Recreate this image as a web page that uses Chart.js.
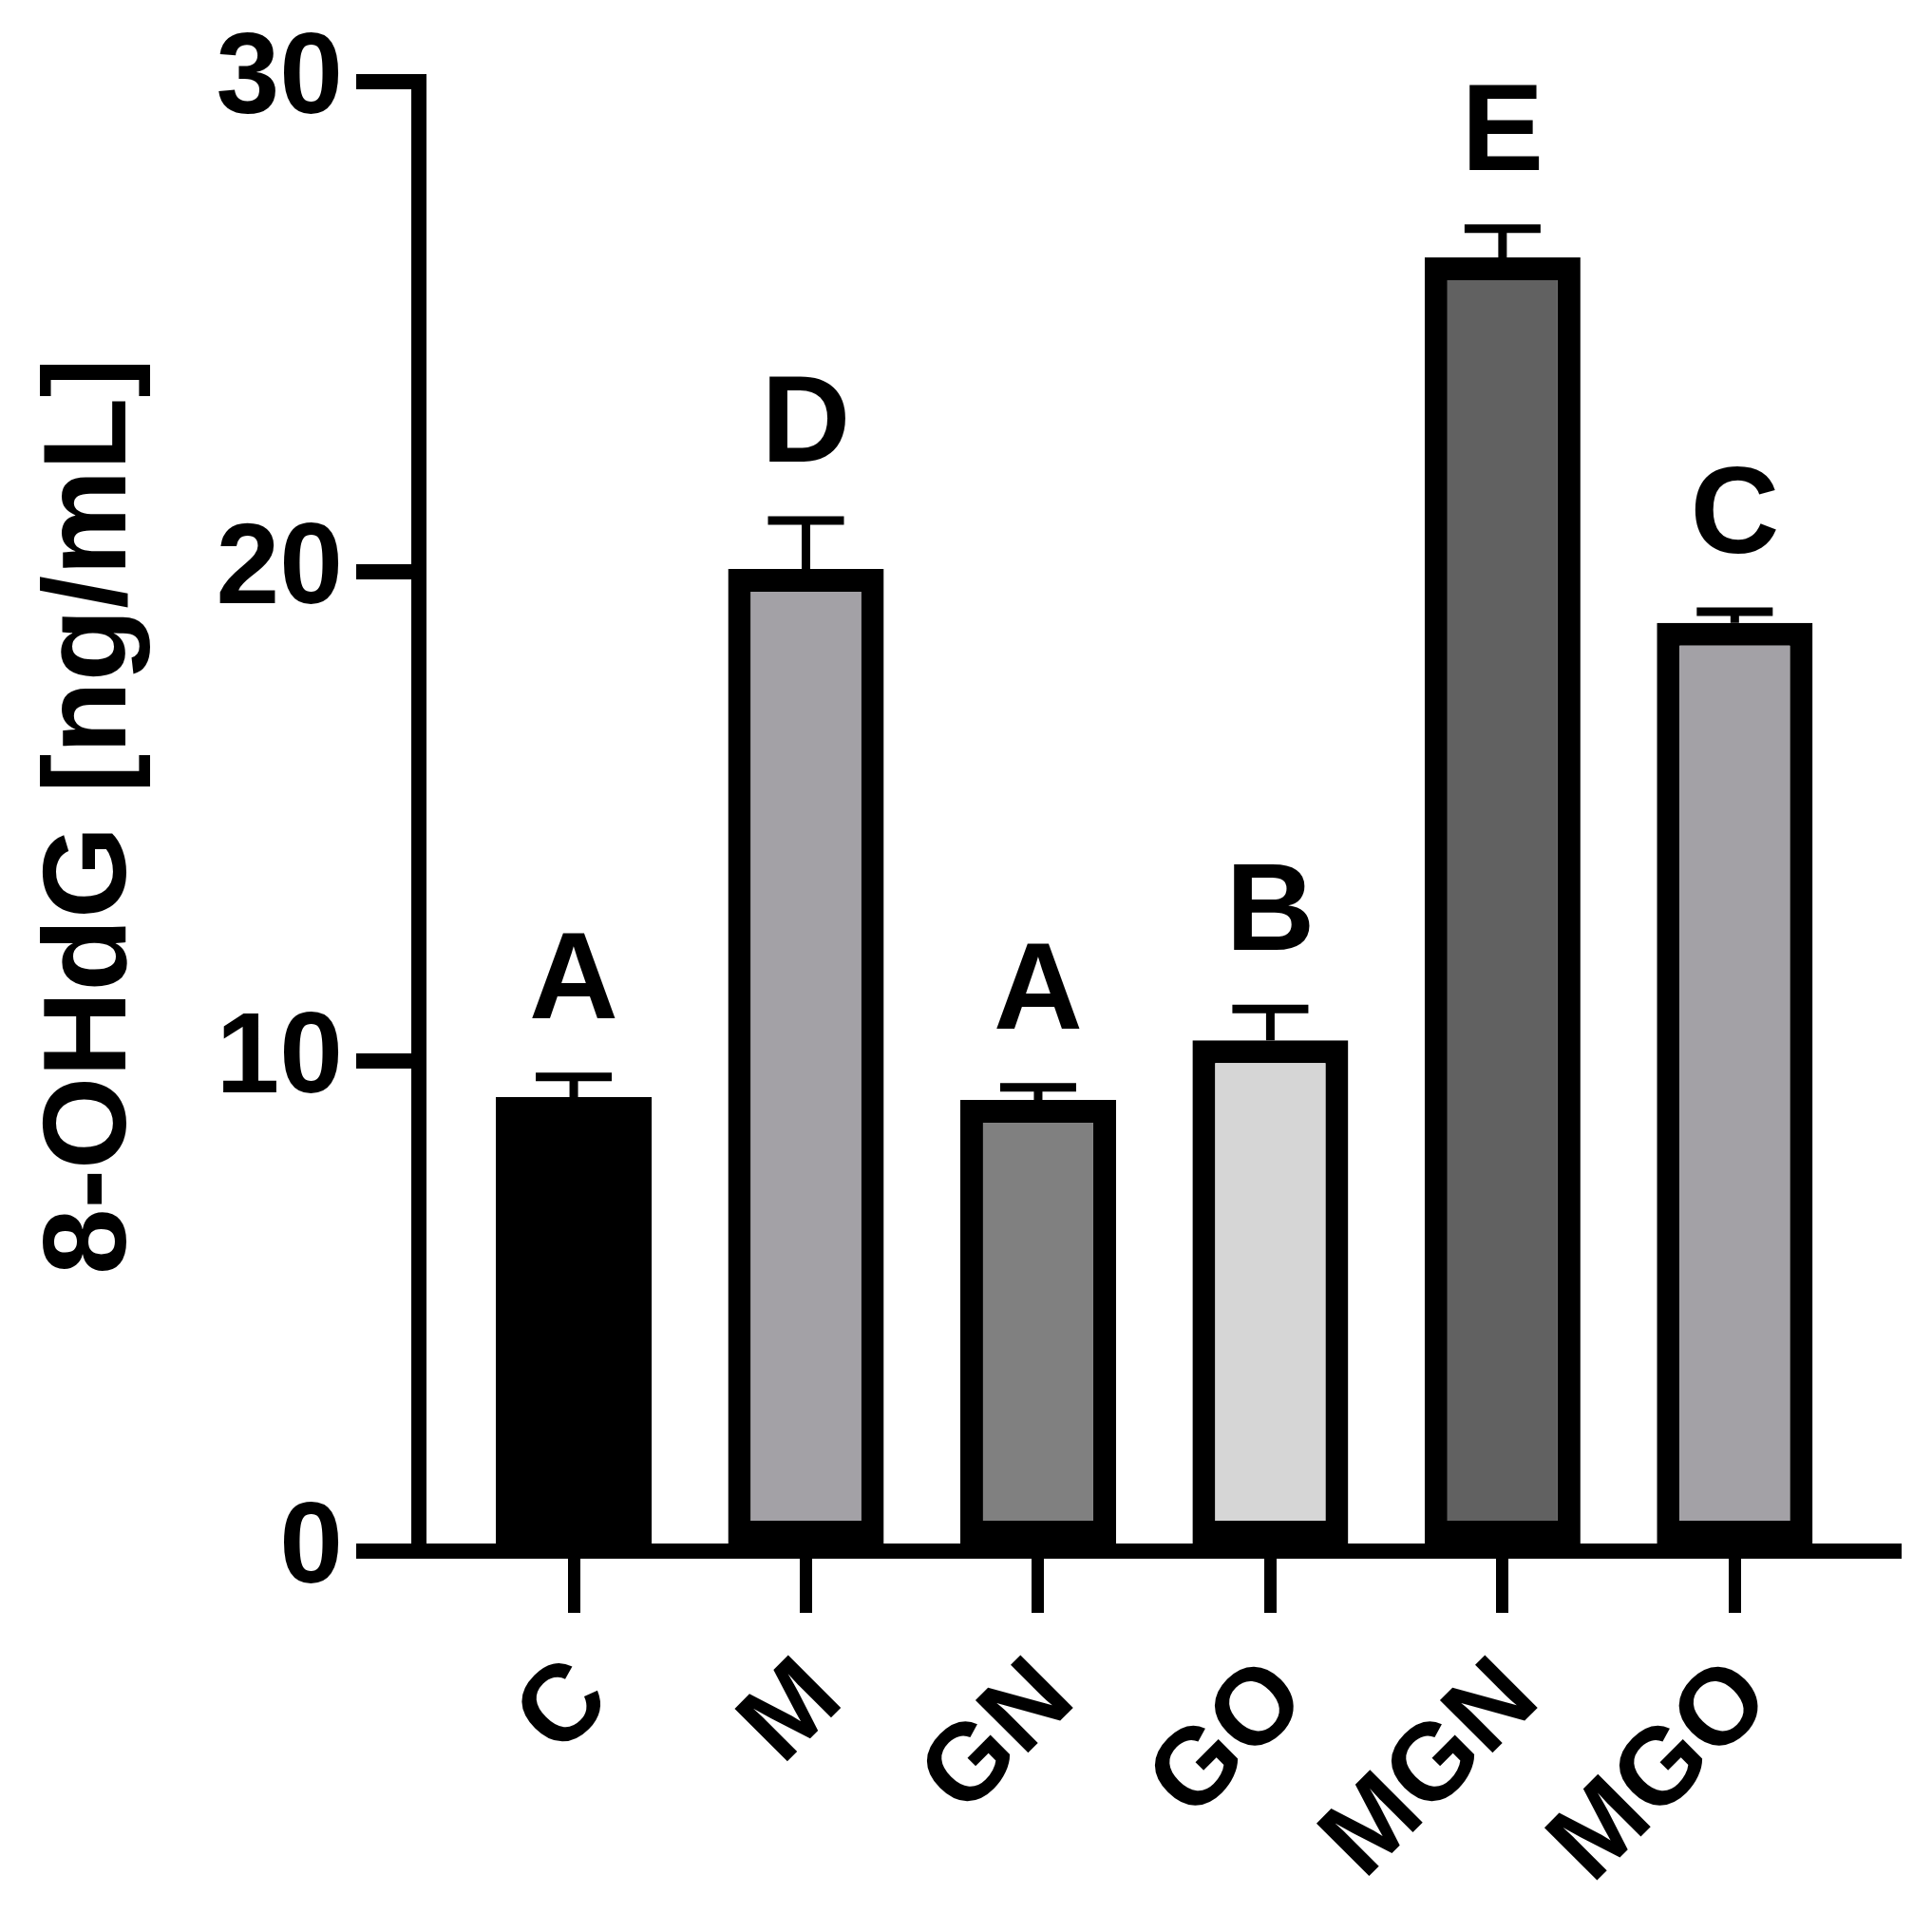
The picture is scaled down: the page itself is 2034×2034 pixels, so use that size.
<!DOCTYPE html>
<html>
<head>
<meta charset="utf-8">
<title>8-OHdG</title>
<script src="https://cdn.jsdelivr.net/npm/chart.js@4.4.1/dist/chart.umd.min.js"></script>
<style>
  html, body { margin: 0; padding: 0; background: #fff; }
  canvas { display: block; }
</style>
</head>
<body>
<canvas id="chart" width="2034" height="2034"></canvas>
<script>
"use strict";

// data
const groups = ['C', 'M', 'GN', 'GO', 'MGN', 'MGO'];
const means = [9.27, 20.05, 9.21, 10.43, 26.41, 18.95];
const sems = [0.41, 0.99, 0.26, 0.64, 0.59, 0.23];
const letters = ['A', 'D', 'A', 'B', 'E', 'C'];
const yTicks = [0, 10, 20, 30];

const fills = ['#000000', '#a3a1a6', '#808080', '#d6d6d6', '#616161', '#a3a1a6'];
// the solid black bar needs no separate outline (avoids a seam)
const outlines = [0, 24, 24, 24, 24, 24];
const FONT = "'Liberation Sans', Arial, Helvetica, sans-serif";

Chart.defaults.font.family = FONT;
Chart.defaults.color = '#000';

// upper error bars + significance letters
const errorBarPlugin = {
    id: 'errorBars',
    afterDatasetsDraw(chart) {
        const ctx = chart.ctx;
        const y = chart.scales.y;
        const meta = chart.getDatasetMeta(0);
        ctx.save();
        ctx.strokeStyle = '#000';
        ctx.fillStyle = '#000';
        ctx.lineWidth = 9;
        ctx.font = 'bold 130px ' + FONT;
        ctx.textAlign = 'center';
        ctx.textBaseline = 'alphabetic';
        meta.data.forEach(function(bar, i) {
            const top = y.getPixelForValue(means[i] + sems[i]);
            ctx.beginPath();
            ctx.moveTo(bar.x, bar.y);
            ctx.lineTo(bar.x, top);
            ctx.moveTo(bar.x - 40, top);
            ctx.lineTo(bar.x + 40, top);
            ctx.stroke();
            ctx.fillText(letters[i], bar.x, top - 62);
        });
        ctx.restore();
    }
};

new Chart(document.getElementById('chart'), {
    type: 'bar',
    data: {
        datasets: [{
            data: groups.map((g, i) => ({x: i, y: means[i]})),
            backgroundColor: fills,
            borderColor: '#000',
            borderWidth: outlines,
            borderSkipped: false,
            barPercentage: 0.671,
            categoryPercentage: 1.0
        }]
    },
    options: {
        responsive: false,
        animation: false,
        layout: {padding: {top: 81, right: 39, bottom: 0, left: 0}},
        plugins: {
            legend: {display: false},
            tooltip: {enabled: false}
        },
        scales: {
            x: {
                type: 'linear',
                offset: false,
                min: -0.667,
                max: 5.69,
                afterBuildTicks: function(scale) {
                    scale.ticks = groups.map((g, i) => ({value: i}));
                },
                afterFit: function(scale) { scale.height = 401; },
                ticks: {
                    callback: (v, i) => groups[i],
                    autoSkip: false,
                    minRotation: 45,
                    maxRotation: 45,
                    padding: 36,
                    labelOffset: 20,
                    color: '#000',
                    font: {size: 114, weight: 'bold', lineHeight: 0.9}
                },
                grid: {
                    offset: false,
                    drawOnChartArea: false,
                    tickLength: 65,
                    tickWidth: 13,
                    tickColor: '#000',
                    lineWidth: 13,
                    color: '#000'
                },
                border: {color: '#000', width: 16}
            },
            y: {
                min: 0,
                max: 30,
                afterBuildTicks: function(scale) {
                    scale.ticks = yTicks.map(v => ({value: v}));
                },
                afterFit: function(scale) { scale.width = 441; },
                ticks: {
                    padding: 14,
                    color: '#000',
                    font: {size: 120, weight: 'bold'}
                },
                grid: {
                    drawOnChartArea: false,
                    tickLength: 66,
                    tickWidth: 16,
                    tickColor: '#000',
                    lineWidth: 16,
                    color: '#000'
                },
                border: {color: '#000', width: 16},
                title: {
                    display: true,
                    text: '8-OHdG [ng/mL]',
                    color: '#000',
                    font: {size: 125, weight: 'bold'},
                    padding: {top: 23, bottom: 0}
                }
            }
        }
    },
    plugins: [errorBarPlugin]
});
</script>
</body>
</html>
